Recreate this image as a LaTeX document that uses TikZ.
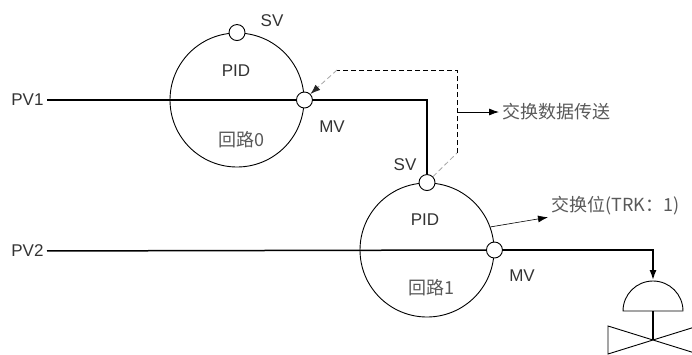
\documentclass[tikz,border=0pt]{standalone}
\usepackage{fontspec}
\setmainfont{Liberation Sans}
\newfontfamily\cjk{Noto Sans CJK SC}
\usetikzlibrary{arrows.meta}

\begin{document}
\begin{tikzpicture}[x=1pt,y=-1pt,
  loop/.style={draw,circle,line width=0.9pt,minimum size=134pt,inner sep=0pt},
  port/.style={draw,circle,fill=white,line width=0.9pt,minimum size=16pt,inner sep=0pt},
  signal/.style={line width=1.5pt},
  tag/.style={font=\fontsize{17}{19}\selectfont,text=black!80},
  note/.style={font=\cjk\fontsize{18}{20}\selectfont,text=black!65},
  swap/.style={dash pattern=on 5pt off 3pt,line width=0.8pt}]
  \useasboundingbox (0,0) rectangle (692,354);
  % Loop 0
  \node[loop] (c0) at (237,100) {};
  \node[port] (sv0) at (c0.north) {};
  \node[port] (mv0) at (c0.east) {};
  \node[tag] at (272,21) {SV};
  \node[tag] at (236,71) {PID};
  \node[note] at (241,140) {回路0};
  \node[tag] at (332,127) {MV};
  % Loop 1
  \node[loop] (c1) at (427,250) {};
  \node[port] (sv1) at (c1.north) {};
  \node[port] (mv1) at (c1.east) {};
  \node[tag] at (405,165) {SV};
  \node[tag] at (425,220) {PID};
  \node[note] at (431,288) {回路1};
  \node[tag] at (522,276) {MV};
  % Process values and outputs
  \node[tag,anchor=east] (pv1) at (47,100) {PV1};
  \node[tag,anchor=east] (pv2) at (47,251) {PV2};
  \coordinate (act) at (653,280);
  \draw[signal] (pv1) -- (mv0);
  \draw[signal] (mv0) -| (sv1);
  \draw[signal] (pv2) -- (mv1);
  \draw[signal,-{Latex[length=10pt,width=7pt]}] (mv1) -| (act);
  % Data exchange
  \coordinate (d1) at (457,153);
  \coordinate (d2) at (457,70);
  \coordinate (d3) at (337,70);
  \coordinate (d4) at (457,112);
  \draw[swap,gray!70] (sv1.45) -- (d1);
  \draw[swap] (d1) -- (d2) -- (d3);
  \draw[swap,gray!70,-{Latex[length=10pt,width=7pt,color=black!85]}] (d3) -- (mv0.45);
  \node[note,anchor=west] (xfer) at (499,112) {交换数据传送};
  \draw[line width=0.8pt,-{Latex[length=10pt,width=7pt]}] (d4) -- (xfer);
  \node[note,anchor=west] (trk) at (548,206) {交换位(TRK：1)};
  \draw[line width=0.6pt,-{Latex[length=10pt,width=7pt]}] (c1.20) -- (trk);
  % Valve
  \draw[line width=0.9pt] (623,311) arc[start angle=180,end angle=360,radius=30] -- cycle;
  \draw[signal] (653,311) -- (653,340);
  \draw[line width=0.9pt] (608,326) -- (698,354) -- (698,326) -- (608,354) -- cycle;
\end{tikzpicture}
\end{document}
